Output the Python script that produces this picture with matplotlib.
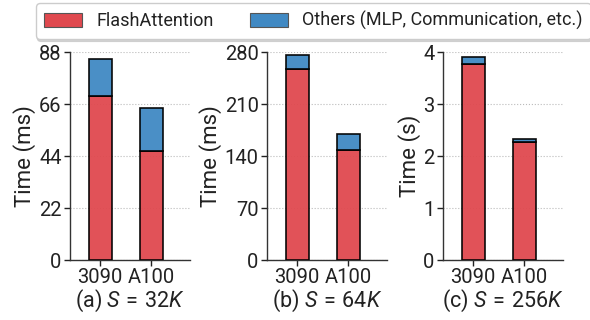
import matplotlib
matplotlib.use("Agg")
import matplotlib.pyplot as plt
from matplotlib.patches import Patch

plt.rcParams['font.family'] = ['Roboto', 'DejaVu Sans']
plt.rcParams['mathtext.fontset'] = 'custom'
plt.rcParams['mathtext.rm'] = 'Roboto'
plt.rcParams['mathtext.it'] = 'Roboto:italic'
plt.rcParams['text.color'] = '#222222'
plt.rcParams['axes.labelcolor'] = '#222222'
plt.rcParams['xtick.color'] = '#222222'
plt.rcParams['ytick.color'] = '#222222'

# Data
gpus = ['3090', 'A100']
flash_32k = [69.3, 46.3]
total_32k = [84.9, 64.5]
flash_64k = [257.6, 148.3]
total_64k = [275.5, 170.2]
flash_256k = [3.776, 2.26]
total_256k = [3.904, 2.33]

panels = [
    (flash_32k, total_32k, [0, 22, 44, 66, 88], 'Time (ms)', r'(a) $S\,=\,32K$'),
    (flash_64k, total_64k, [0, 70, 140, 210, 280], 'Time (ms)', r'(b) $S\,=\,64K$'),
    (flash_256k, total_256k, [0, 1, 2, 3, 4], 'Time (s)', r'(c) $S\,=\,256K$'),
]

red = '#e0494f'
blue = '#4089c3'
edge = (0, 0, 0, 0.55)

fig = plt.figure(figsize=(5.9, 3.2), dpi=100)
lefts = [70 / 590, 267 / 590, 443 / 590]
width = 120 / 590

for left, (flash, total, yticks, ylabel, xlabel) in zip(lefts, panels):
    ax = fig.add_axes([left, 60 / 320, width, 208 / 320])
    others = [t - f for t, f in zip(total, flash)]
    x = range(len(gpus))
    ax.bar(x, flash, width=0.45, color=red, alpha=0.95, edgecolor=edge,
           linewidth=1.2, zorder=3)
    ax.bar(x, others, width=0.45, bottom=flash, color=blue, alpha=0.95,
           edgecolor=edge, linewidth=1.2, zorder=3)
    ax.set_xlim(-0.59, 1.76)
    ax.set_ylim(0, yticks[-1])
    ax.set_yticks(yticks)
    ax.set_xticks(list(x))
    ax.set_xticklabels(gpus)
    ax.set_ylabel(ylabel, fontsize=16, labelpad=2)
    ax.set_xlabel(xlabel, fontsize=15.5, labelpad=0)
    ax.tick_params(axis='both', labelsize=14.5, length=4, width=1, pad=2)
    ax.grid(axis='y', linestyle=':', color='#bbbbbb', linewidth=0.8, zorder=0)
    ax.spines['top'].set_visible(False)
    ax.spines['right'].set_visible(False)
    for s in ['left', 'bottom']:
        ax.spines[s].set_color('#333333')
        ax.spines[s].set_linewidth(1.0)

handles = [Patch(facecolor=red, edgecolor='#555555', linewidth=0.8),
           Patch(facecolor=blue, edgecolor='#555555', linewidth=0.8)]
fig.legend(handles, ['FlashAttention', 'Others (MLP, Communication, etc.)'],
           loc='upper left', bbox_to_anchor=(36 / 590, 0.99), ncol=2,
           fontsize=13, frameon=True, fancybox=True, handlelength=2.1,
           handleheight=0.75, handletextpad=0.8, columnspacing=2.0,
           borderpad=0.45, borderaxespad=0.0, edgecolor='#cccccc',
           shadow={'color': '#bbbbbb', 'alpha': 0.6, 'ox': 1, 'oy': -2})

fig.savefig('out.png', dpi=100)
